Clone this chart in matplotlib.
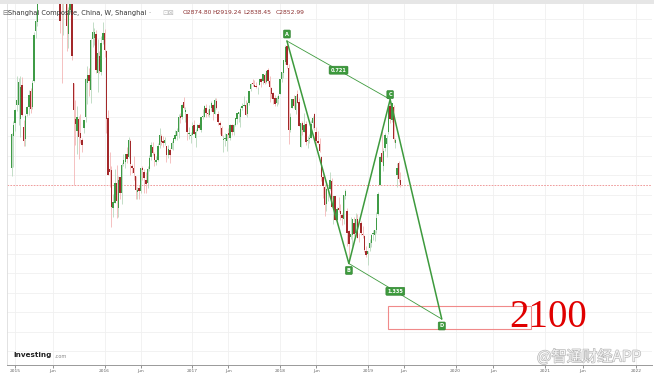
import matplotlib
matplotlib.use('Agg')
import matplotlib.pyplot as plt
import matplotlib.patheffects as pe
from matplotlib.patches import Rectangle
import pandas as pd

# Shanghai Composite, weekly bars (Friday dates), Dec 2014 .. May 2019
FIRST_WEEK = '2014-12-19'
LAST_WEEK = '2019-05-24'
CLOSED_WEEKS = ['2016-02-12', '2016-10-07', '2017-10-06', '2018-10-05', '2019-02-08']
AXIS_END = '2022-03-31'

opens = [
    2936, 3100,
    # 2015
    3166, 3258, 3259, 3189, 3360, 3148, 3084, 3213, 3250, 3332, 3249, 3380, 3640,
    3685, 3872, 4050, 4224, 4403, 4476, 4221, 4313, 4670, 4632, 5045, 5174, 4460,
    4275, 4098, 3813, 3979, 4045, 3622, 3746, 4004, 3373, 3186, 3127, 3187, 3114,
    3080, 3144, 3196, 3372, 3413, 3337, 3596, 3603, 3625, 3423, 3509, 3426, 3590,
    # 2016
    3627, 3537, 3194, 2934, 2926, 2735, 2760, 2860, 2733, 2891, 2810, 2958, 2967,
    3011, 2993, 3073, 2949, 2938, 2894, 2816, 2835, 2819, 2935, 2916, 2876, 2861,
    2930, 2993, 3045, 3007, 2966, 2977, 3055, 3101, 3077, 3063, 3048, 3004, 3031,
    3036, 3066, 3086, 3100, 3120, 3201, 3200, 3275, 3225, 3211, 3110, 3103,
    # 2017
    3105, 3155, 3093, 3128, 3159, 3130, 3199, 3199, 3243, 3221, 3208, 3244, 3260,
    3215, 3282, 3215, 3165, 3144, 3079, 3088, 3075, 3117, 3090, 3155, 3124, 3159,
    3190, 3211, 3198, 3244, 3253, 3262, 3212, 3270, 3339, 3372, 3360, 3356, 3345,
    3364, 3393, 3384, 3414, 3377, 3440, 3381, 3348, 3322, 3293, 3270, 3289,
    # 2018
    3314, 3394, 3424, 3481, 3563, 3451, 3133, 3245, 3289, 3236, 3318, 3274, 3047,
    3169, 3121, 3163, 3075, 3086, 3093, 3167, 3211, 3123, 3074, 3061, 2993, 2893,
    2841, 2755, 2826, 2829, 2872, 2721, 2792, 2671, 2731, 2716, 2697, 2676, 2794,
    2716, 2614, 2587, 2597, 2657, 2603, 2677, 2590, 2657, 2600, 2592, 2513,
    # 2019
    2497, 2528, 2553, 2600, 2596, 2620, 2701, 2850, 3015, 2947, 3041, 3061, 3122,
    3255, 3181, 3251, 3064, 2904, 2965, 2874.80,
]
highs = [
    3116, 3178,
    3239, 3406, 3400, 3406, 3404, 3183, 3213, 3252, 3337, 3347, 3385, 3632, 3728,
    3871, 4069, 4318, 4432, 4573, 4480, 4384, 4658, 4986, 5052, 5178, 5176, 4688,
    4456, 4184, 3976, 4184, 4047, 3761, 4006, 4006, 3373, 3287, 3256, 3203, 3211,
    3090, 3184, 3400, 3457, 3448, 3597, 3684, 3652, 3642, 3595, 3537, 3611, 3684,
    3650, 3539, 3235, 3021, 2949, 2804, 2934, 2955, 2895, 2891, 2963, 3010, 3010,
    3046, 3097, 3088, 2958, 3000, 2894, 2842, 2848, 2939, 2947, 2931, 2919, 2950,
    3004, 3069, 3068, 3021, 2998, 3064, 3141, 3111, 3102, 3098, 3050, 3054, 3041,
    3076, 3090, 3133, 3141, 3211, 3220, 3265, 3301, 3250, 3214, 3149, 3124,
    3172, 3182, 3138, 3164, 3168, 3199, 3237, 3260, 3264, 3240, 3259, 3280, 3265,
    3295, 3296, 3229, 3179, 3150, 3104, 3116, 3112, 3140, 3161, 3160, 3161, 3194,
    3218, 3224, 3248, 3269, 3306, 3283, 3276, 3333, 3372, 3391, 3388, 3378, 3353,
    3393, 3397, 3418, 3422, 3436, 3450, 3409, 3352, 3325, 3312, 3306, 3317,
    3395, 3430, 3488, 3568, 3587, 3468, 3220, 3289, 3312, 3312, 3336, 3294, 3168,
    3176, 3220, 3176, 3101, 3110, 3185, 3203, 3219, 3149, 3125, 3091, 3000, 2923,
    2856, 2836, 2831, 2915, 2888, 2796, 2796, 2736, 2789, 2752, 2705, 2797, 2829,
    2732, 2619, 2687, 2679, 2686, 2706, 2704, 2603, 2666, 2640, 2593, 2536,
    2515, 2574, 2600, 2618, 2618, 2710, 2813, 2998, 3129, 3042, 3117, 3108, 3249,
    3288, 3270, 3260, 3089, 2964, 2972, 2919.24,
]
lows = [
    2895, 2940,
    3126, 3230, 3157, 3095, 3204, 3049, 3049, 3201, 3207, 3219, 3237, 3377, 3600,
    3661, 3871, 4021, 4187, 4387, 4099, 4139, 4300, 4336, 4580, 4991, 4476, 4139,
    3629, 3373, 3616, 3977, 3537, 3549, 3728, 3490, 2850, 3054, 3011, 2983, 3065,
    3018, 3115, 3175, 3267, 3307, 3270, 3557, 3565, 3422, 3327, 3425, 3412, 3569,
    3503, 3115, 2900, 2839, 2638, 2689, 2760, 2684, 2687, 2780, 2752, 2950, 2938,
    2962, 2991, 2904, 2912, 2875, 2781, 2781, 2780, 2807, 2877, 2808, 2808, 2835,
    2921, 2979, 3006, 2946, 2953, 2974, 3042, 3054, 3046, 3056, 2969, 2991, 2965,
    3036, 3028, 3079, 3083, 3089, 3168, 3190, 3240, 3171, 3081, 3084, 3063,
    3105, 3109, 3044, 3127, 3139, 3120, 3186, 3199, 3197, 3204, 3199, 3229, 3185,
    3215, 3237, 3158, 3111, 3099, 3017, 3051, 3022, 3090, 3079, 3106, 3107, 3150,
    3164, 3175, 3146, 3233, 3252, 3208, 3196, 3261, 3333, 3355, 3355, 3344, 3318,
    3362, 3352, 3365, 3367, 3370, 3373, 3274, 3297, 3263, 3254, 3253, 3264,
    3314, 3376, 3400, 3470, 3449, 3062, 3120, 3245, 3246, 3211, 3269, 3151, 3045,
    3107, 3121, 3054, 3041, 3064, 3092, 3140, 3134, 3042, 3059, 3018, 2869, 2782,
    2691, 2719, 2771, 2824, 2737, 2653, 2669, 2653, 2712, 2669, 2644, 2651, 2779,
    2536, 2449, 2575, 2541, 2591, 2586, 2579, 2559, 2596, 2581, 2510, 2483,
    2440, 2515, 2535, 2567, 2562, 2606, 2698, 2850, 2969, 2924, 3024, 2994, 3113,
    3168, 3175, 3070, 3040, 2838, 2864, 2838.45,
]
closes = [
    3109, 3158,
    3235, 3285, 3377, 3352, 3210, 3076, 3204, 3247, 3310, 3241, 3373, 3617, 3691,
    3864, 4034, 4287, 4394, 4442, 4206, 4309, 4658, 4612, 5023, 5166, 4478, 4193,
    3687, 3878, 3957, 4071, 3664, 3744, 3965, 3508, 3232, 3160, 3200, 3098, 3092,
    3053, 3183, 3391, 3412, 3383, 3590, 3633, 3631, 3436, 3525, 3435, 3579, 3628,
    3539, 3186, 2901, 2917, 2738, 2763, 2860, 2767, 2874, 2810, 2955, 2979, 3010,
    2985, 3078, 2959, 2938, 2913, 2827, 2825, 2821, 2939, 2927, 2885, 2854, 2932,
    2988, 3054, 3013, 2979, 2977, 3051, 3108, 3070, 3067, 3079, 3003, 3034, 3005,
    3064, 3091, 3104, 3125, 3196, 3193, 3262, 3244, 3233, 3123, 3110, 3104,
    3154, 3113, 3123, 3159, 3140, 3197, 3202, 3253, 3218, 3213, 3237, 3269, 3223,
    3287, 3246, 3173, 3155, 3103, 3084, 3091, 3110, 3106, 3158, 3123, 3158, 3192,
    3218, 3222, 3238, 3253, 3262, 3209, 3268, 3332, 3367, 3365, 3354, 3353, 3349,
    3391, 3379, 3417, 3372, 3433, 3383, 3354, 3318, 3290, 3266, 3297, 3307,
    3392, 3429, 3488, 3558, 3462, 3130, 3199, 3289, 3255, 3307, 3270, 3153, 3169,
    3131, 3159, 3072, 3082, 3091, 3163, 3193, 3141, 3075, 3067, 3022, 2890, 2847,
    2747, 2831, 2829, 2874, 2740, 2795, 2669, 2729, 2725, 2702, 2682, 2797, 2821,
    2607, 2550, 2599, 2676, 2599, 2679, 2579, 2588, 2606, 2594, 2516, 2494,
    2515, 2554, 2596, 2602, 2618, 2682, 2804, 2994, 2970, 3022, 3104, 3091, 3247,
    3189, 3271, 3086, 3078, 2939, 2882, 2852.99,
]

# harmonic pattern drawn on the chart (week, price)
pattern_names = ['A', 'B', 'C', 'D']
pattern_weeks = ['2018-02-02', '2018-10-19', '2019-04-12', '2019-11-08']
pattern_prices = [3587, 2449, 3288, 2165]
ratio_labels = ['0.721', '1.335']

# target zone box
ZONE_WEEKS = ['2019-04-05', '2020-11-06']
ZONE_PRICES = [2115, 2233]

x_years = ['2015', '2016', '2017', '2018', '2019', '2020', '2021', '2022']

GREEN = '#3d9a3d'
UP, DOWN = '#3f9b46', '#a3282a'
UP_WICK, DOWN_WICK = '#b3d5b8', '#f2b0b0'

# bar index calendar: trading weeks, then future weeks at the same spacing
weeks = pd.date_range(FIRST_WEEK, LAST_WEEK, freq='W-FRI')
weeks = weeks[~weeks.isin(pd.to_datetime(CLOSED_WEEKS))]
assert len(weeks) == len(closes)
future = pd.date_range(weeks[-1] + pd.Timedelta(weeks=1), AXIS_END, freq='W-FRI')
calendar = weeks.append(future)
index_of = {d: i for i, d in enumerate(calendar)}


def idx(day):
    return index_of[pd.Timestamp(day)]


W, H = 654, 377
fig = plt.figure(figsize=(W / 100, H / 100), dpi=100)
ax = fig.add_axes([7 / W, 1 - 365 / H, 645 / W, 361 / H])

# grey strip on top
fig.add_artist(Rectangle((0, 1 - 4 / H), 1, 4 / H, transform=fig.transFigure,
                         color='#e6e6e6', lw=0))

# candles
xs = list(range(len(closes)))
for i in xs:
    o, h, l, c = opens[i], highs[i], lows[i], closes[i]
    up = c >= o
    ax.vlines(i, l, h, colors=UP_WICK if up else DOWN_WICK, lw=0.55, zorder=2)
    ax.bar(i, max(abs(c - o), 4), bottom=min(o, c), width=0.8,
           color=UP if up else DOWN, lw=0, zorder=3)

# last close line
ax.axhline(closes[-1], color='#ec8c8c', lw=0.6, ls=(0, (2, 1.5)), zorder=1)

# pattern
px = [idx(d) for d in pattern_weeks]
py = pattern_prices
ax.plot(px, py, color=GREEN, lw=1.1, zorder=5, solid_capstyle='round')
ax.plot([px[0], px[2]], [py[0], py[2]], color=GREEN, lw=0.6, zorder=5)
ax.plot([px[1], px[3]], [py[1], py[3]], color=GREEN, lw=0.6, zorder=5)

box = dict(boxstyle='round,pad=0.3,rounding_size=0.2', fc=GREEN, ec='#2c7f2c', lw=0.4)
offsets = [5, -5, 3.5, -5]
for name, x, y, off in zip(pattern_names, px, py, offsets):
    ax.annotate(name, (x, y), xytext=(0, off), textcoords='offset points',
                ha='center', va='center', fontsize=3.6, color='white',
                fontweight='bold', bbox=box, zorder=6)
for lab, (a, b) in zip(ratio_labels, [(0, 2), (1, 3)]):
    ax.text((px[a] + px[b]) / 2, (py[a] + py[b]) / 2, lab, ha='center', va='center',
            fontsize=3.6, color='white', fontweight='bold', bbox=box, zorder=6)

# target zone
z0, z1 = idx(ZONE_WEEKS[0]), idx(ZONE_WEEKS[1])
ax.add_patch(Rectangle((z0, ZONE_PRICES[0]), z1 - z0, ZONE_PRICES[1] - ZONE_PRICES[0],
                       fill=False, ec='#f08a8a', lw=0.8, zorder=4))

# axes
ax.set_xlim(-2.7, 372.2)
ax.set_ylim(1930, 3776)
ax.set_yticks(range(2000, 3800, 100))
ax.tick_params(axis='y', left=False, labelleft=False)

ticks, labels = [], []
for y in x_years:
    jan = calendar[calendar.year == int(y)][0]
    ticks.append(index_of[jan])
    labels.append(y)
    jun = calendar[(calendar.year == int(y)) & (calendar.month == 6)]
    if len(jun):
        ticks.append(index_of[jun[0]])
        labels.append('Jun')
ax.set_xticks(ticks)
ax.set_xticklabels(labels)
ax.tick_params(axis='x', labelsize=3.2, colors='#666666', length=2, width=0.5, pad=1.2)
ax.grid(True, color='#f0f0f0', lw=0.6, zorder=0)
ax.set_axisbelow(True)
for side in ['top', 'right']:
    ax.spines[side].set_visible(False)
ax.spines['left'].set_color('#dddddd')
ax.spines['left'].set_linewidth(0.6)
ax.spines['bottom'].set_color('#999999')
ax.spines['bottom'].set_linewidth(0.7)


def fpos(x, y):
    return x / W, 1 - y / H


# legend row
fig.text(*fpos(2, 13), '⊟', fontsize=5, color='#777777', va='center')
fig.text(*fpos(8, 13), 'Shanghai Composite, China, W, Shanghai', fontsize=4.8,
         color='#333333', va='center')
fig.text(*fpos(149, 13), '-', fontsize=4.5, color='#999999', va='center')
fig.text(*fpos(162, 13), '⊡⊠', fontsize=5, color='#bbbbbb', va='center')
ohlc = [('O', opens[-1], 183), ('H', highs[-1], 212), ('L', lows[-1], 243), ('C', closes[-1], 276)]
for key, val, x in ohlc:
    fig.text(*fpos(x, 13), f'{key}{val:.2f}', fontsize=4.3, color='#8c3030', va='center')

# logo
fig.text(*fpos(13, 355), 'Investing', fontsize=5.2, fontweight='bold', color='#222222',
         va='center')
fig.text(*fpos(54, 356), '.com', fontsize=3.6, color='#888888', va='center')

# target text
fig.text(*fpos(509, 327), '2100', fontsize=28, color='#e00000', va='baseline',
         family='Liberation Serif')

# watermark
fig.text(*fpos(537, 357), '@智通财经APP', fontsize=11, color='#f4f4f4', va='center',
         family=['Noto Sans CJK SC', 'DejaVu Sans'],
         path_effects=[pe.withStroke(linewidth=0.9, foreground='#b5b5b5')])

fig.savefig('out.png', dpi=100)
